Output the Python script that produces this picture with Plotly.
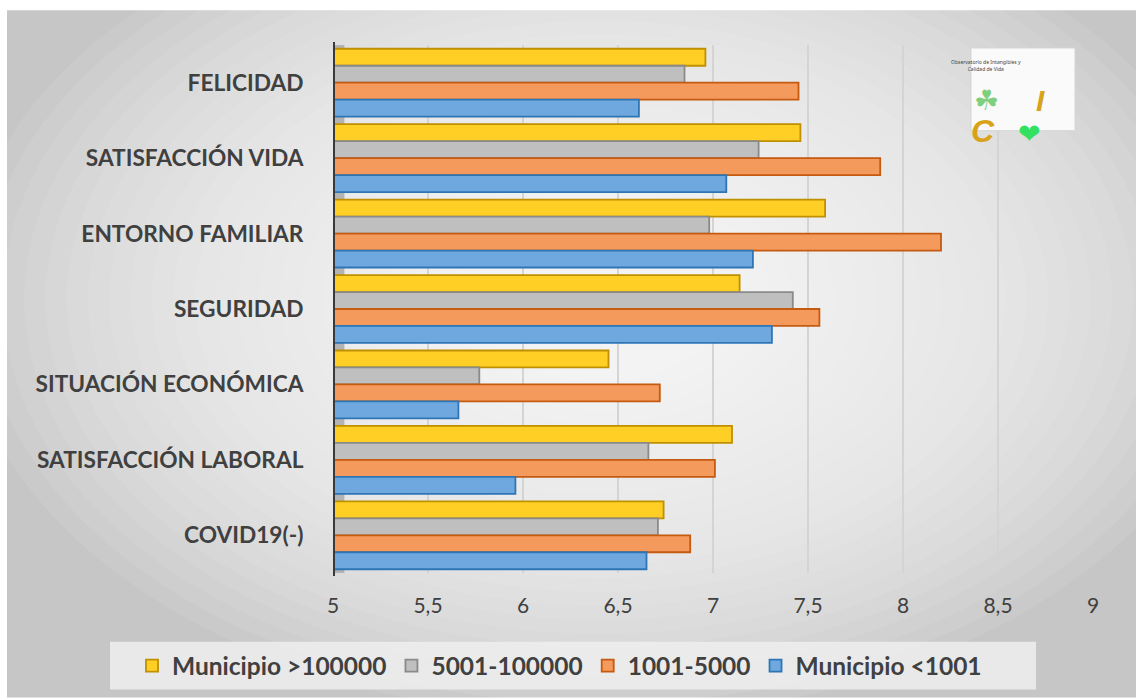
import plotly.graph_objects as go

categories = ["FELICIDAD", "SATISFACCIÓN VIDA", "ENTORNO FAMILIAR", "SEGURIDAD",
              "SITUACIÓN ECONÓMICA", "SATISFACCIÓN LABORAL", "COVID19(-)"]
series_names = ["Municipio >100000", "5001-100000", "1001-5000", "Municipio <1001"]
v_mayor100000 = [6.96, 7.46, 7.59, 7.14, 6.45, 7.10, 6.74]
v_5001_100000 = [6.85, 7.24, 6.98, 7.42, 5.77, 6.66, 6.71]
v_1001_5000 = [7.45, 7.88, 8.20, 7.56, 6.72, 7.01, 6.88]
v_menor1001 = [6.61, 7.07, 7.21, 7.31, 5.66, 5.96, 6.65]
x_ticks = [5, 5.5, 6, 6.5, 7, 7.5, 8, 8.5, 9]

fills = ["#FFCF26", "#BFBFBF", "#F39A5C", "#6EA8DE"]
borders = ["#BF9000", "#8A8A8A", "#C55A11", "#2E75B6"]
values = [v_mayor100000, v_5001_100000, v_1001_5000, v_menor1001]

W, H = 1136, 700
L, R, T, B = 333, 43, 45, 125
PW, PH = W - L - R, H - T - B

def px(x):
    return (x - L) / PW

def py(y):
    return 1 - (y - T) / PH

fig = go.Figure()
for name, vals, fc, bc in zip(series_names, values, fills, borders):
    fig.add_trace(go.Bar(
        y=categories, x=[v - 5 for v in vals], base=5, orientation="h",
        name="<b>" + name + "</b>",
        marker=dict(color=fc, line=dict(color=bc, width=1.8)),
        hovertemplate="%{y}: %{x}<extra>" + name + "</extra>",
    ))

shapes = []
# chart background with pseudo radial gradient
shapes.append(dict(type="rect", xref="paper", yref="paper", x0=px(7), x1=px(1136),
                   y0=py(700), y1=py(10), fillcolor="#c6c6c6", line=dict(width=0), layer="below"))
cx, cy = 600, 300
n = 30
for i in range(n):
    f = 1 - i / n
    rx, ry = 640 * f, 420 * f
    shapes.append(dict(type="circle", xref="paper", yref="paper",
                       x0=px(cx - rx), x1=px(cx + rx), y0=py(cy + ry), y1=py(cy - ry),
                       fillcolor="rgba(255,255,255,0.075)", line=dict(width=0), layer="below"))
# legend box
shapes.append(dict(type="rect", xref="paper", yref="paper", x0=px(110), x1=px(1036),
                   y0=py(692), y1=py(644), fillcolor="rgba(238,238,238,0.85)",
                   line=dict(width=0), layer="below"))
# 3D wall strip
shapes.append(dict(type="rect", xref="x", yref="paper", x0=5, x1=5.06, y0=0, y1=1,
                   fillcolor="#b3b3b3", line=dict(width=0), layer="below"))
# axis line
shapes.append(dict(type="line", xref="x", yref="paper", x0=5, x1=5, y0=py(578), y1=py(42),
                   line=dict(color="#3a3a3a", width=4)))
# logo box
shapes.append(dict(type="rect", xref="paper", yref="paper", x0=px(971), x1=px(1075),
                   y0=py(131), y1=py(48), fillcolor="#fafafa",
                   line=dict(color="#d5d5d5", width=1)))

annotations = [
    dict(xref="paper", yref="paper", x=px(1023), y=py(57), text="Observatorio de Intangibles y<br>Calidad de Vida",
         showarrow=False, font=dict(size=5, color="#444444", family="Noto Sans")),
    dict(xref="paper", yref="paper", x=px(1001), y=py(82), text="☘", showarrow=False,
         font=dict(size=28, color="#7fcf7f", family="DejaVu Sans")),
    dict(xref="paper", yref="paper", x=px(1047), y=py(82), text="<b><i>I</i></b>", showarrow=False,
         font=dict(size=30, color="#D9A21B", family="Liberation Sans")),
    dict(xref="paper", yref="paper", x=px(997), y=py(111), text="<b><i>C</i></b>", showarrow=False,
         font=dict(size=32, color="#D9A21B", family="Liberation Sans")),
    dict(xref="paper", yref="paper", x=px(1043), y=py(116), text="❤", showarrow=False,
         font=dict(size=27, color="#33E060", family="DejaVu Sans")),
]

fig.update_layout(
    width=W, height=H, margin=dict(l=L, r=R, t=T, b=B),
    paper_bgcolor="white", plot_bgcolor="rgba(0,0,0,0)",
    barmode="group", bargap=0.1, bargroupgap=0,
    separators=", ",
    shapes=shapes, annotations=annotations,
    font=dict(family="Lato", color="#404040"),
    legend=dict(orientation="h", xref="paper", yref="paper",
                x=px(132), xanchor="left", y=py(668), yanchor="middle",
                bgcolor="rgba(0,0,0,0)", font=dict(size=24.5, color="#404040", family="Lato"),
                traceorder="normal", itemwidth=30),
    xaxis=dict(range=[5, 9], tickvals=x_ticks, showgrid=True, gridcolor="#d4d4d4", gridwidth=1.5,
               zeroline=False, showline=False, ticks="outside", ticklen=14, tickcolor="rgba(0,0,0,0)",
               tickfont=dict(size=21, color="#404040", family="Lato")),
    yaxis=dict(autorange="reversed", showgrid=False, zeroline=False, showline=False,
               ticks="outside", ticklen=24, tickcolor="rgba(0,0,0,0)",
               tickfont=dict(size=22.7, color="#404040", family="Lato"),
               tickprefix="<b>", ticksuffix="</b>"),
)

fig.write_html("out.html", config={"displayModeBar": False},
               post_script="document.body.style.margin='0';document.body.style.overflow='hidden';")
